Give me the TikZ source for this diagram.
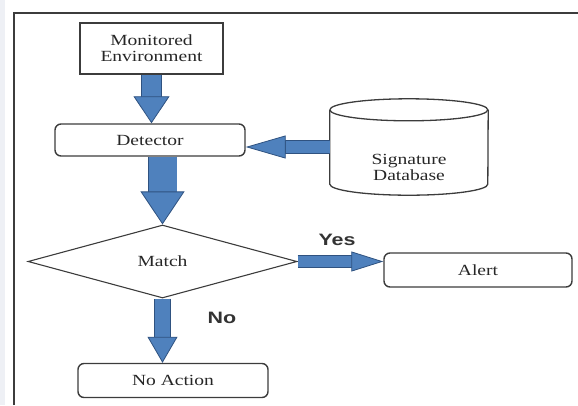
\documentclass[tikz,border=0pt]{standalone}
\usepackage{fontspec}
\newfontfamily\boxfont{Liberation Serif}[FakeStretch=1.26]
\newfontfamily\labfont{Liberation Sans}[FakeStretch=1.3]
\usetikzlibrary{arrows.meta,shapes.geometric}
\definecolor{arrowblue}{HTML}{4F81BD}
\definecolor{arrowedge}{HTML}{2F5280}
\definecolor{edgegray}{HTML}{3C3C3C}
\definecolor{sidegray}{HTML}{EEF0F5}

\begin{document}
\begin{tikzpicture}[
  x=1pt, y=-1pt,
  box/.style={draw=edgegray, line width=1.4pt, rounded corners=6pt, align=center,
              font=\boxfont\fontsize{15.5}{16}\selectfont, inner sep=0pt,
              text=black!85},
  envbox/.style={box, rounded corners=0pt, line width=2.4pt},
  decide/.style={box, diamond, rounded corners=0pt, line width=1.1pt},
  dbtext/.style={align=center, font=\boxfont\fontsize{15.5}{16}\selectfont,
                 text=black!85, inner sep=0pt},
  dbline/.style={draw=edgegray, line width=1.3pt},
  lab/.style={font=\labfont\bfseries\fontsize{16.5}{18}\selectfont, text=black!80},
  frame/.style={draw=edgegray, line width=2.6pt},
  blockar/.style n args={3}{draw=arrowblue, line width=#1,
    -{Triangle[length=#2, width=#3, fill=arrowblue, color=arrowedge,
               line width=0.8pt]},
    preaction={draw=arrowedge, line width=#1+1.6pt, arrows=-,
               shorten >=#2-2pt}}
]
\useasboundingbox (0,0) rectangle (578,405);
\fill[sidegray] (0,0) rectangle (5,405);
\draw[frame] (14,405) -- (14,13) -- (578,13);

\node[envbox, minimum width=143, minimum height=51] (env) at (151.5,48.5)
  {Monitored\\Environment};
\node[box, minimum width=190, minimum height=32] (det) at (150,140)
  {Detector};
\node[minimum width=158, minimum height=74, inner sep=0pt] (sigdb)
  at (409,147) {};
\node[dbtext] (sigtxt) at (409,167) {Signature\\Database};
\node[decide, minimum width=269, minimum height=73] (match) at (162.5,261.5)
  {Match};
\node[box, minimum width=188, minimum height=34] (alert) at (478,270)
  {Alert};
\node[box, minimum width=190, minimum height=34] (noact) at (173,380.5)
  {No Action};
\node[lab] (yes) at (337,240) {Yes};
\node[lab] (no) at (222,318) {No};

% signature store drawn as a cylinder
\draw[dbline] (sigdb.north west)
  arc[start angle=180, end angle=-180, x radius=79pt, y radius=11pt];
\draw[dbline] (sigdb.north west) -- (sigdb.south west)
  arc[start angle=180, end angle=360, x radius=79pt, y radius=11pt]
  -- (sigdb.north east);

\draw[blockar={19pt}{27pt}{36pt}] (env.south) -- (env.south |- det.north);
\draw[blockar={12pt}{40pt}{23pt}] (sigdb.west) -- (sigdb.west -| det.east);
\draw[blockar={28pt}{33pt}{44pt}] (match.north |- det.south) -- (match.north);
\draw[blockar={11pt}{32pt}{20pt}] (match.east) -- (match.east -| alert.west);
\draw[blockar={15pt}{26pt}{30pt}] (match.south) -- (match.south |- noact.north);

\end{tikzpicture}
\end{document}
